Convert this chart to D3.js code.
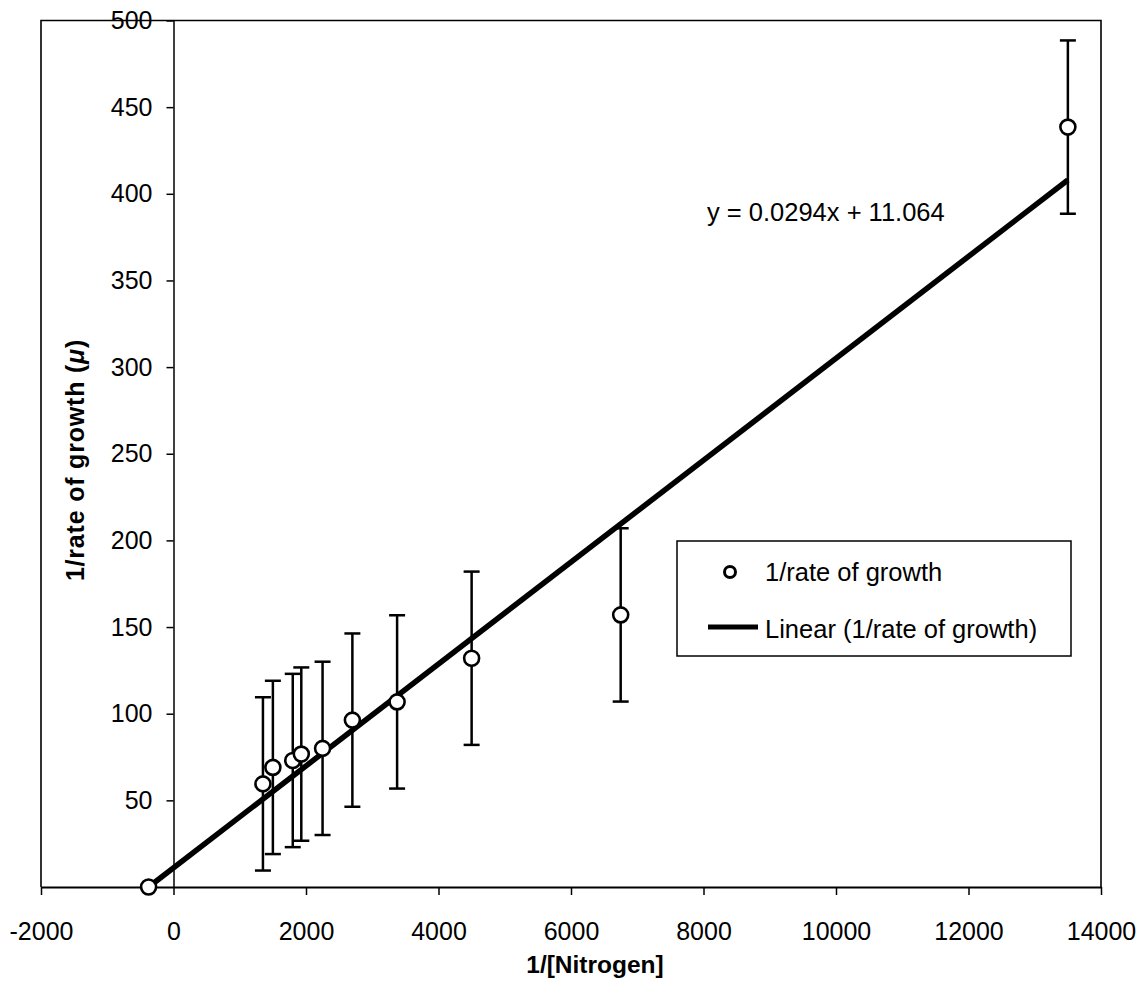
<!DOCTYPE html>
<html>
<head>
<meta charset="utf-8">
<script src="https://cdn.jsdelivr.net/npm/d3@7"></script>
<style>
  body { margin: 0; background: #fff; }
  svg { display: block; }
  text { font-family: "Liberation Sans", Arial, Helvetica, sans-serif; fill: #000; }
</style>
</head>
<body>
<svg id="chart" width="1146" height="998"></svg>
<script>
// Lineweaver-Burk style plot: 1/[Nitrogen] against 1/rate of growth
const inverseNitrogen = [-376, 1350, 1500, 1800, 1929, 2250, 2700, 3375, 4500, 6750, 13500];
const inverseGrowth   = [0, 59.5, 69, 73, 76.7, 80, 96.3, 106.8, 132, 157, 438.5];
const growthError     = [0, 50, 50, 50, 50, 50, 50, 50, 50, 50, 50];

// Linear trendline as reported on the chart
const trendSlope = 0.0294;
const trendIntercept = 11.064;

const xTickValues = [-2000, 0, 2000, 4000, 6000, 8000, 10000, 12000, 14000];
const yTickValues = [50, 100, 150, 200, 250, 300, 350, 400, 450, 500];

const svg = d3.select("#chart");
svg.append("rect").attr("width", 1146).attr("height", 998).attr("fill", "#fff");

const x = d3.scaleLinear().domain([-2000, 14000]).range([41, 1101]);
const y = d3.scaleLinear().domain([0, 500]).range([887, 20.5]);

// plot frame (top, left, right)
svg.append("path")
  .attr("d", `M${x(-2000)},${y(0)}V${y(500)}H${x(14000)}V${y(0)}`)
  .attr("fill", "none").attr("stroke", "#000").attr("stroke-width", 1.6);

// x axis along y = 0
const xAxis = svg.append("g")
  .attr("transform", `translate(0,${y(0)})`)
  .call(d3.axisBottom(x).tickValues(xTickValues).tickSize(8).tickSizeOuter(0)
    .tickPadding(27).tickFormat(d => String(d)));
xAxis.select(".domain").attr("stroke-width", 2);
xAxis.selectAll(".tick line").attr("stroke-width", 1.5);
xAxis.selectAll("text").style("font-size", "25px").attr("font-family", null);

// y axis along x = 0
const yAxis = svg.append("g")
  .attr("transform", `translate(${x(0)},0)`)
  .call(d3.axisLeft(y).tickValues(yTickValues).tickSize(7).tickSizeOuter(0)
    .tickPadding(14).tickFormat(d => String(d)));
yAxis.select(".domain").attr("stroke-width", 1.5);
yAxis.selectAll(".tick line").attr("stroke-width", 1.5);
yAxis.selectAll("text").style("font-size", "25px").attr("font-family", null);

const points = inverseNitrogen.map((v, i) => ({ x: v, y: inverseGrowth[i], e: growthError[i] }));

// error bars
const capHalf = 8;
const bars = svg.append("g").attr("stroke", "#000").attr("stroke-width", 2.5).attr("fill", "none");
points.filter(p => p.e > 0).forEach(p => {
  const cx = x(p.x), top = y(p.y + p.e), bot = y(p.y - p.e);
  bars.append("line").attr("x1", cx).attr("x2", cx).attr("y1", top).attr("y2", bot);
  bars.append("line").attr("x1", cx - capHalf).attr("x2", cx + capHalf).attr("y1", top).attr("y2", top);
  bars.append("line").attr("x1", cx - capHalf).attr("x2", cx + capHalf).attr("y1", bot).attr("y2", bot);
});

// trendline from its x-intercept to the last observation
const trendStart = -trendIntercept / trendSlope;
const trendEnd = d3.max(inverseNitrogen);
svg.append("line")
  .attr("x1", x(trendStart)).attr("y1", y(trendSlope * trendStart + trendIntercept))
  .attr("x2", x(trendEnd)).attr("y2", y(trendSlope * trendEnd + trendIntercept))
  .attr("stroke", "#000").attr("stroke-width", 5.5);

// observations
svg.append("g").selectAll("circle").data(points).join("circle")
  .attr("cx", d => x(d.x)).attr("cy", d => y(d.y)).attr("r", 7.5)
  .attr("fill", "#fff").attr("stroke", "#000").attr("stroke-width", 2.6);

// trendline equation
svg.append("text").attr("x", 707).attr("y", 221).style("font-size", "25.5px")
  .text(`y = ${trendSlope}x + ${trendIntercept.toFixed(3)}`);

// legend
const legend = svg.append("g");
legend.append("rect").attr("x", 677).attr("y", 541).attr("width", 394).attr("height", 115)
  .attr("fill", "#fff").attr("stroke", "#000").attr("stroke-width", 1.5);
legend.append("circle").attr("cx", 730).attr("cy", 572).attr("r", 5.5)
  .attr("fill", "#fff").attr("stroke", "#000").attr("stroke-width", 3);
legend.append("text").attr("x", 765).attr("y", 581).style("font-size", "25.5px").text("1/rate of growth");
legend.append("line").attr("x1", 708).attr("x2", 758).attr("y1", 627).attr("y2", 627)
  .attr("stroke", "#000").attr("stroke-width", 5);
legend.append("text").attr("x", 765).attr("y", 638).style("font-size", "25.5px").text("Linear (1/rate of growth)");

// axis titles
svg.append("text").attr("x", 595).attr("y", 973).attr("text-anchor", "middle")
  .style("font-size", "24.5px").style("font-weight", "bold").text("1/[Nitrogen]");

const yTitle = svg.append("text").attr("transform", "translate(84,460) rotate(-90)")
  .attr("text-anchor", "middle").style("font-size", "25px").style("font-weight", "bold")
  .style("letter-spacing", "0.8px");
yTitle.append("tspan").text("1/rate of growth (");
yTitle.append("tspan").style("font-style", "italic").text("\u03bc");
yTitle.append("tspan").text(")");
</script>
</body>
</html>
